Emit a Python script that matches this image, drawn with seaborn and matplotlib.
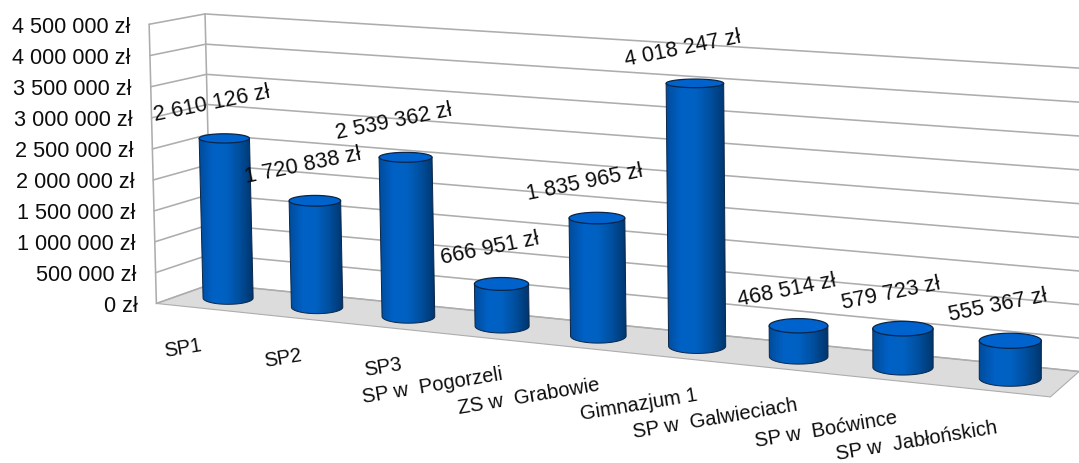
import numpy as np
import pandas as pd
import seaborn as sns
import matplotlib
matplotlib.use("Agg")
import matplotlib.pyplot as plt
from matplotlib.colors import ListedColormap
from matplotlib.patches import Polygon

categories = ["SP1", "SP2", "SP3", "SP w  Pogorzeli", "ZS w  Grabowie", "Gimnazjum 1",
              "SP w  Galwieciach", "SP w  Boćwince", "SP w  Jabłońskich"]
values = [2610126, 1720838, 2539362, 666951, 1835965, 4018247, 468514, 579723, 555367]
value_labels = ["2 610 126 zł", "1 720 838 zł", "2 539 362 zł", "666 951 zł", "1 835 965 zł",
                "4 018 247 zł", "468 514 zł", "579 723 zł", "555 367 zł"]
ticks = [0, 500000, 1000000, 1500000, 2000000, 2500000, 3000000, 3500000, 4000000, 4500000]
tick_labels = ["0 zł", "500 000 zł", "1 000 000 zł", "1 500 000 zł", "2 000 000 zł",
               "2 500 000 zł", "3 000 000 zł", "3 500 000 zł", "4 000 000 zł", "4 500 000 zł"]
VMAX = 4500000
n = len(values)

# Perspective camera calibrated on the visible corners of the chart box and a few
# reference points: (u across categories, w depth, h height) -> pixel
calibration = [((0, 0, 0), (156, 303)), ((1, 0, 0), (1050, 397)),
               ((0, 1, 0), (212, 284)), ((1, 1, 0), (1079, 374)),
               ((0, 1, 1), (205, 15)), ((0, 0, 1), (149, 26)), ((1, 1, 1), (1079, 67)),
               ((0.5 / n, 0.5, values[0] / VMAX), (224, 139)),
               ((2.5 / n, 0.5, values[2] / VMAX), (405, 160)),
               ((4.5 / n, 0.5, values[4] / VMAX), (597, 221)),
               ((5.5 / n, 0.5, values[5] / VMAX), (697, 84)),
               ((8.5 / n, 0.5, values[8] / VMAX), (1011, 342))]
A = []
for (u, w, h), (x, y) in calibration:
    X = [u, w, h, 1]
    A.append(X + [0, 0, 0, 0] + [-x * c for c in X])
    A.append([0, 0, 0, 0] + X + [-y * c for c in X])
P = np.linalg.svd(np.array(A, float))[2][-1].reshape(3, 4)


def project(u, w, h):
    u, w, h = np.broadcast_arrays(np.asarray(u, float), np.asarray(w, float), np.asarray(h, float))
    q = P @ np.stack([u.ravel(), w.ravel(), h.ravel(), np.ones(u.size)])
    return (q[0] / q[2]).reshape(u.shape), (q[1] / q[2]).reshape(u.shape)


sns.set_theme(style="white")
FONT = "Liberation Sans"
plt.rcParams["font.family"] = [FONT, "DejaVu Sans"]
fig = plt.figure(figsize=(10.79, 4.64), dpi=100)
ax = fig.add_axes([0, 0, 1, 1])
ax.set_xlim(0, 1079)
ax.set_ylim(464, 0)
ax.axis("off")

GRID = "#adadad"
TEXT = "#0d0d0d"
FS = 15.6


def seg(p0, p1, z=1, lw=1.15):
    x0, y0 = project(*p0)
    x1, y1 = project(*p1)
    frame = pd.DataFrame({"x": [float(x0), float(x1)], "y": [float(y0), float(y1)]})
    sns.lineplot(data=frame, x="x", y="y", ax=ax, color=GRID, lw=lw, zorder=z,
                 sort=False, estimator=None, legend=False)


# Floor
fx, fy = project([0, 1, 1, 0], [0, 0, 1, 1], [0, 0, 0, 0])
ax.fill(fx, fy, facecolor="#dcdcdc", edgecolor=GRID, lw=0.8, zorder=0.5)

# Walls and gridlines
for t in ticks:
    h = t / VMAX
    seg((0, 0, h), (0, 1, h))
    seg((0, 1, h), (1, 1, h))
seg((0, 0, 0), (0, 0, 1))
seg((0, 1, 0), (0, 1, 1))
ax.set_xlabel("")
ax.set_ylabel("")

# Cylinders
slot = 1 / n
RU = 0.285 * slot
RW = 0.32
shade = ListedColormap(sns.blend_palette(["#004c9c", "#0061c6", "#0061c2", "#004f9e", "#00366e"], 64))
gradient = np.linspace(0, 1, 64)[None, :]
EDGE = "#0b2545"
tops = []
for i, v in enumerate(values):
    uc = (i + 0.5) * slot
    h = v / VMAX
    bx, by = map(float, project(uc, 0.5, 0.0))
    tx, ty = map(float, project(uc, 0.5, h))
    bl = float(project(uc - RU, 0.5, 0.0)[0])
    br = float(project(uc + RU, 0.5, 0.0)[0])
    tl = float(project(uc - RU, 0.5, h)[0])
    tr = float(project(uc + RU, 0.5, h)[0])
    ab, at = (br - bl) / 2, (tr - tl) / 2
    y1 = float(project(uc, 0.5 - RW, 0.0)[1]); y2 = float(project(uc, 0.5 + RW, 0.0)[1])
    eb = abs(y1 - y2) / 2
    y1 = float(project(uc, 0.5 - RW, h)[1]); y2 = float(project(uc, 0.5 + RW, h)[1])
    et = abs(y1 - y2) / 2

    th = np.linspace(0, np.pi, 60)
    ox = np.r_[tx - at, bx - ab, bx + ab * np.cos(th)[::-1], tx + at]
    oy = np.r_[ty, by, by + eb * np.sin(th)[::-1], ty]
    outline = Polygon(np.c_[ox, oy], closed=True, transform=ax.transData, facecolor="none", edgecolor="none")
    ax.add_patch(outline)
    im = ax.imshow(gradient, cmap=shade, aspect="auto", interpolation="bilinear", zorder=2,
                   extent=(min(tx - at, bx - ab), max(tx + at, bx + ab), max(oy), min(oy)))
    im.set_clip_path(outline)
    th = np.linspace(0, 2 * np.pi, 120)
    ax.fill(tx + at * np.cos(th), ty + et * np.sin(th), facecolor="#0062cc",
            edgecolor=EDGE, lw=0.9, zorder=3)
    ax.plot(ox, oy, color=EDGE, lw=0.7, zorder=3)
    tops.append((tx, ty))
ax.set_xlim(0, 1079)
ax.set_ylim(464, 0)

# Value labels
for (tx, ty), s in zip(tops, value_labels):
    ax.text(tx - 12, ty - 36, s, rotation=11.5, rotation_mode="anchor", ha="center", va="center",
            fontsize=FS, color=TEXT, zorder=5)

# Value axis labels
for t, s in zip(ticks, tick_labels):
    x, y = project(0, 0, t / VMAX)
    ax.text(float(x) - 19, float(y) + 2, s, ha="right", va="center", fontsize=FS, color=TEXT, zorder=5)

# Category labels, anchored at their right end
cat_right = [202, 302, 402, 502, 600, 697, 797, 897, 997]
cat_mid_y = [345, 355, 364, 374, 385, 395, 405, 418, 428]
for s, x, y in zip(categories, cat_right, cat_mid_y):
    ax.text(x, y, s, rotation=9.5, rotation_mode="anchor", ha="right", va="center",
            fontsize=FS * 0.93, color=TEXT, zorder=5)

fig.savefig("out.png", dpi=100, facecolor="white")
